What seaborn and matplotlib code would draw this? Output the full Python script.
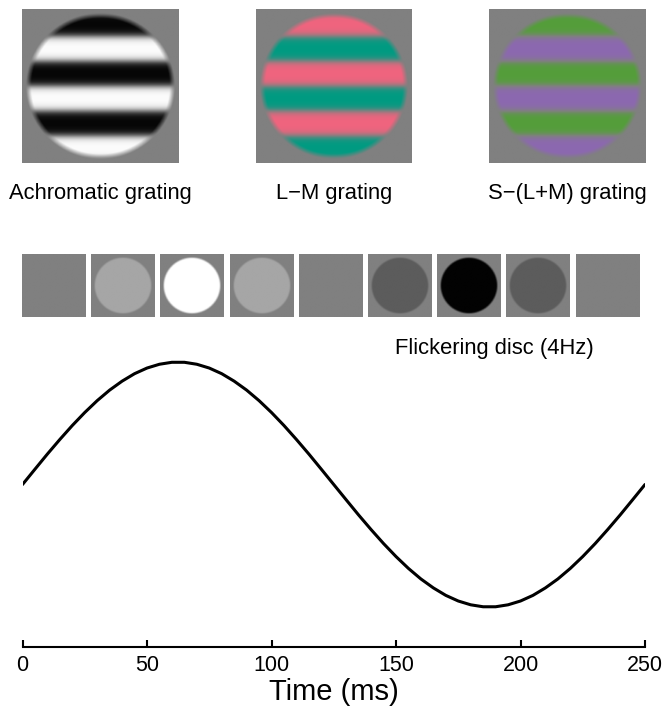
import matplotlib
matplotlib.use('Agg')
import numpy as np
import matplotlib.pyplot as plt
import seaborn as sns

# Stimulus data
grating_labels = ['Achromatic grating', 'L\u2212M grating', 'S\u2212(L+M) grating']
# colour at the negative and positive phase of each grating (RGB 0-255)
grating_neg = [(6, 6, 6), (240, 100, 126), (84, 158, 58)]
grating_pos = [(252, 252, 252), (0, 155, 130), (140, 104, 176)]
background_gray = (128, 128, 128)

# disc contrast in each frame of the flicker sequence
flicker_contrast = [0.0, 0.3, 1.0, 0.3, 0.0, -0.28, -0.98, -0.28, 0.0]
flicker_label = 'Flickering disc (4Hz)'

# temporal profile (ms, normalised luminance)
time_ms = [0, 5, 10, 15, 20, 25, 30, 35, 40, 45, 50, 55, 60, 65, 70, 75, 80, 85, 90,
           95, 100, 105, 110, 115, 120, 125, 130, 135, 140, 145, 150, 155, 160, 165,
           170, 175, 180, 185, 190, 195, 200, 205, 210, 215, 220, 225, 230, 235, 240,
           245, 250]
luminance = [0.000, 0.125, 0.249, 0.368, 0.482, 0.588, 0.685, 0.771, 0.844, 0.905,
             0.951, 0.982, 0.998, 0.998, 0.982, 0.951, 0.905, 0.844, 0.771, 0.685,
             0.588, 0.482, 0.368, 0.249, 0.125, 0.000, -0.125, -0.249, -0.368, -0.482,
             -0.588, -0.685, -0.771, -0.844, -0.905, -0.951, -0.982, -0.998, -0.998,
             -0.982, -0.951, -0.905, -0.844, -0.771, -0.685, -0.588, -0.482, -0.368,
             -0.249, -0.125, 0.000]
x_ticks = [0, 50, 100, 150, 200, 250]

sns.set_style('white')
plt.rcParams['font.family'] = ['Liberation Sans', 'DejaVu Sans']
plt.rcParams['text.color'] = 'black'
plt.rcParams['axes.labelcolor'] = 'black'

W, H = 664, 708
fig = plt.figure(figsize=(W / 100, H / 100), dpi=100)


def px_axes(x0, y0, x1, y1):
    # axes from pixel box (top-left origin)
    return fig.add_axes([x0 / W, 1 - y1 / H, (x1 - x0) / W, (y1 - y0) / H])


def disc_mask(n, radius, soft=0.07):
    c = np.linspace(-1, 1, n)
    xx, yy = np.meshgrid(c, c)
    r = np.sqrt(xx ** 2 + yy ** 2)
    return np.clip((radius - r) / soft + 0.5, 0, 1), yy


def grating_image(neg, pos, n=200):
    mask, yy = disc_mask(n, 0.92)
    s = np.sin(2 * np.pi * yy / 0.65)
    w = np.tanh(1.8 * s) / np.tanh(1.8) * mask
    g = np.array(background_gray, float)
    neg = np.array(neg, float)
    pos = np.array(pos, float)
    wp = np.clip(w, 0, 1)[..., None]
    wn = np.clip(-w, 0, 1)[..., None]
    img = g + wp * (pos - g) + wn * (neg - g)
    return img / 255


def flicker_image(contrast, n=100):
    mask, _ = disc_mask(n, 0.89, soft=0.06)
    lum = 0.5 + 0.5 * contrast * mask
    return np.clip(lum, 0, 1)


# top row: gratings
grating_boxes = [(22, 9, 179, 163), (256, 9, 412, 163), (489, 9, 645, 163)]
for box, lab, neg, pos in zip(grating_boxes, grating_labels, grating_neg, grating_pos):
    ax = px_axes(*box)
    ax.imshow(grating_image(neg, pos), aspect='auto', interpolation='bilinear')
    ax.axis('off')
    fig.text((box[0] + box[2]) / 2 / W, 1 - 199 / H, lab, ha='center', va='baseline',
             fontsize=15.8)

# flicker sequence
pitch = 69.2
for i, c in enumerate(flicker_contrast):
    x0 = 22 + i * pitch
    ax = px_axes(x0, 254, x0 + 63.5, 317)
    ax.imshow(flicker_image(c), cmap='gray', vmin=0, vmax=1, aspect='auto',
              interpolation='bilinear')
    ax.axis('off')
fig.text(494 / W, 1 - 354 / H, flicker_label, ha='center', va='baseline', fontsize=15.8)

# temporal profile
ax = px_axes(22.5, 340, 645, 647)
sns.lineplot(x=time_ms, y=luminance, ax=ax, color='black', linewidth=2.2)
ax.lines[0].set_solid_joinstyle('round')
ax.set_xlim(0, 250)
ax.set_ylim(-1.3265, 1.18)
ax.set_xticks(x_ticks)
ax.set_yticks([])
for s in ['top', 'left', 'right']:
    ax.spines[s].set_visible(False)
ax.spines['bottom'].set_linewidth(1.5)
ax.spines['bottom'].set_color('black')
ax.tick_params(axis='x', direction='in', length=5, width=1.5, pad=6, labelsize=15.5,
               colors='black', bottom=True)
ax.set_xlabel('Time (ms)', fontsize=21, labelpad=1)
ax.patch.set_alpha(0)

fig.savefig('out.png', dpi=100)
plt.close(fig)
